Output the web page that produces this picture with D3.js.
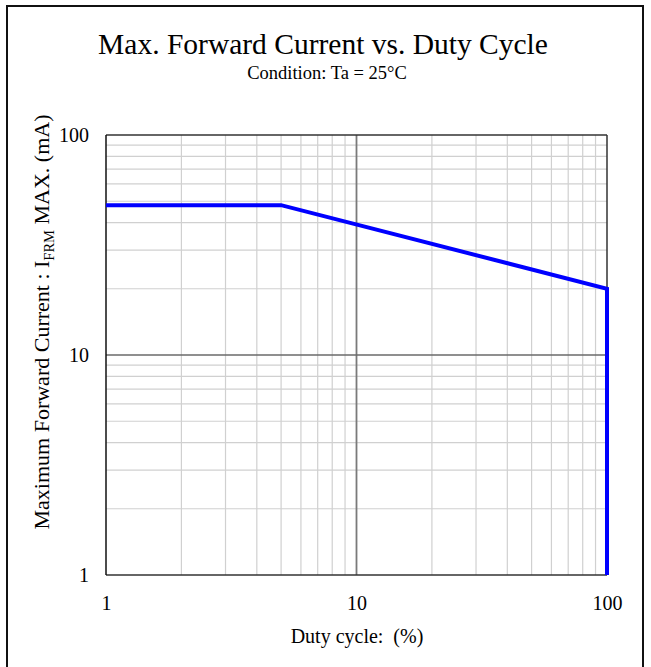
<!DOCTYPE html>
<html><head><meta charset="utf-8">
<script src="https://cdn.jsdelivr.net/npm/d3@7"></script>
<style>body{margin:0;background:#fff}svg{display:block}text{font-family:"Liberation Serif","Times New Roman",serif;fill:#000}</style>
</head><body><svg id="c" width="651" height="667"></svg>
<script>
const dutyCycle = [1, 5, 100, 100];
const currentMax = [48, 48, 20, 1];
const xTicks = [1, 10, 100];
const yTicks = [1, 10, 100];

const svg = d3.select("#c");
const m = {l:106, r:607, t:135, b:575};
const x = d3.scaleLog().domain([1,100]).range([m.l, m.r]);
const y = d3.scaleLog().domain([1,100]).range([m.b, m.t]);

svg.append("rect").attr("x",7).attr("y",6).attr("width",636).attr("height",670)
  .attr("fill","#fff").attr("stroke","#111").attr("stroke-width",2);

const minor = [];
for (let d=1; d<100; d*=10) for (let k=2;k<=9;k++) minor.push(d*k);
const g = svg.append("g");
g.selectAll(".vx").data(minor).enter().append("line")
  .attr("x1",d=>x(d)).attr("x2",d=>x(d)).attr("y1",m.t).attr("y2",m.b)
  .attr("stroke","#d0d0d0").attr("stroke-width",1.2);
g.selectAll(".hy").data(minor).enter().append("line")
  .attr("y1",d=>y(d)).attr("y2",d=>y(d)).attr("x1",m.l).attr("x2",m.r)
  .attr("stroke","#d0d0d0").attr("stroke-width",1.2);
g.append("line").attr("x1",x(10)).attr("x2",x(10)).attr("y1",m.t).attr("y2",m.b)
  .attr("stroke","#7a7a7a").attr("stroke-width",1.8);
g.append("line").attr("y1",y(10)).attr("y2",y(10)).attr("x1",m.l).attr("x2",m.r)
  .attr("stroke","#6a6a6a").attr("stroke-width",1.6);

g.append("line").attr("x1",m.l).attr("x2",m.r).attr("y1",m.t).attr("y2",m.t).attr("stroke","#333").attr("stroke-width",1.5);
g.append("line").attr("x1",m.l).attr("x2",m.r).attr("y1",m.b).attr("y2",m.b).attr("stroke","#333").attr("stroke-width",1.5);
g.append("line").attr("x1",m.l).attr("x2",m.l).attr("y1",m.t).attr("y2",m.b).attr("stroke","#111").attr("stroke-width",1.5);
g.append("line").attr("x1",m.r).attr("x2",m.r).attr("y1",m.t).attr("y2",m.b).attr("stroke","#333").attr("stroke-width",1.5);

const data = dutyCycle.map((d,i)=>[d,currentMax[i]]);
svg.append("path").datum(data)
  .attr("d", d3.line().x(d=>x(d[0])).y(d=>y(d[1])))
  .attr("fill","none").attr("stroke","#0000ff").attr("stroke-width",4).attr("stroke-linejoin","miter");

const xa = svg.append("g").attr("transform",`translate(0,${m.b})`)
  .call(d3.axisBottom(x).tickValues(xTicks).tickFormat(d3.format("d")).tickSize(0).tickPadding(21));
const ya = svg.append("g").attr("transform",`translate(${m.l},0)`)
  .call(d3.axisLeft(y).tickValues(yTicks).tickFormat(d3.format("d")).tickSize(0).tickPadding(17));
[xa,ya].forEach(a=>{a.select(".domain").remove();a.selectAll("text").attr("font-family","Liberation Serif").attr("font-size",20).attr("fill","#000");});

svg.append("text").attr("x",323).attr("y",54).attr("text-anchor","middle").attr("font-size",29.5).text("Max. Forward Current vs. Duty Cycle");
svg.append("text").attr("x",327).attr("y",79).attr("text-anchor","middle").attr("font-size",18.5).text("Condition: Ta = 25°C");
svg.append("text").attr("x",357).attr("y",643).attr("text-anchor","middle").attr("font-size",20)
  .attr("xml:space","preserve").style("white-space","pre").text("Duty cycle:  (%)");

const yl = svg.append("text").attr("transform",`translate(49,${322}) rotate(-90)`).attr("text-anchor","middle").attr("font-size",22);
yl.append("tspan").text("Maximum Forward Current : I");
yl.append("tspan").attr("font-size",14.5).attr("dy",5).text("FRM");
yl.append("tspan").attr("dy",-5).text(" MAX. (mA)");
</script></body></html>
